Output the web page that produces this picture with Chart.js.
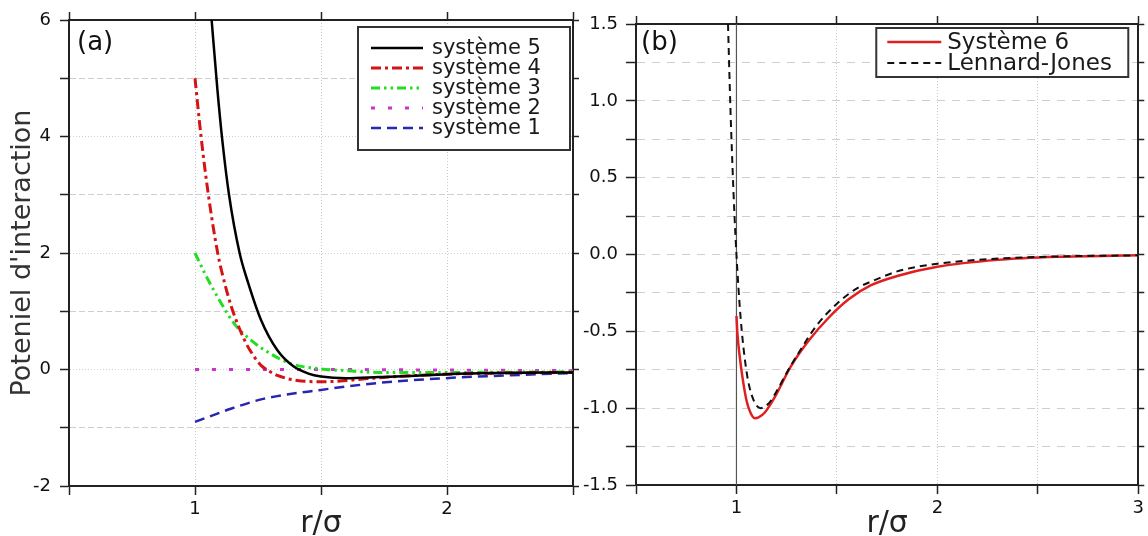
<!DOCTYPE html>
<html>
<head>
<meta charset="utf-8">
<script src="https://cdn.jsdelivr.net/npm/chart.js@4.4.1/dist/chart.umd.min.js"></script>
<style>
  html, body { margin: 0; padding: 0; background: #fff; }
  #wrap { display: flex; width: 1148px; height: 536px; }
  canvas { display: block; }
</style>
</head>
<body>
<div id="wrap">
  <canvas id="chartA" width="580" height="536"></canvas>
  <canvas id="chartB" width="568" height="536"></canvas>
</div>
<script>
// panel (a) : r/sigma values and potentials
const rSys5 = [1.066, 1.089, 1.108, 1.135, 1.177, 1.21, 1.262, 1.327, 1.392, 1.45, 1.50, 1.60, 1.73, 1.85, 2.0, 2.2, 2.5];
const vSys5 = [6.0, 4.8, 3.95, 3.0, 2.0, 1.50, 0.85, 0.33, 0.05, -0.07, -0.12, -0.15, -0.13, -0.11, -0.08, -0.06, -0.05];

const rSys4 = [1.0, 1.024, 1.053, 1.09, 1.105, 1.145, 1.197, 1.23, 1.262, 1.295, 1.327, 1.405, 1.51, 1.626, 1.73, 2.0, 2.5];
const vSys4 = [5.0, 4.0, 3.0, 2.0, 1.70, 1.07, 0.50, 0.25, 0.07, -0.03, -0.10, -0.19, -0.21, -0.18, -0.14, -0.08, -0.05];

const rSys3 = [1.0, 1.04, 1.105, 1.157, 1.223, 1.30, 1.38, 1.5, 1.6, 1.73, 2.0, 2.5];
const vSys3 = [2.0, 1.64, 1.13, 0.78, 0.50, 0.27, 0.10, 0.01, -0.02, -0.05, -0.05, -0.04];

const rSys2 = [1.0, 1.5, 2.0, 2.5];
const vSys2 = [0.0, 0.0, -0.01, -0.02];

const rSys1 = [1.0, 1.145, 1.275, 1.5, 1.73, 1.99, 2.25, 2.5];
const vSys1 = [-0.90, -0.67, -0.50, -0.35, -0.23, -0.15, -0.10, -0.06];

// panel (b)
const rSys6 = [1.0, 1.005, 1.015, 1.03, 1.05, 1.07, 1.09, 1.11, 1.14, 1.19, 1.27, 1.36, 1.46, 1.56, 1.67, 1.8, 2.0, 2.3, 2.6, 3.0];
const vSys6 = [-0.40, -0.52, -0.65, -0.80, -0.95, -1.03, -1.065, -1.06, -1.03, -0.93, -0.73, -0.56, -0.41, -0.29, -0.20, -0.14, -0.08, -0.035, -0.015, -0.005];

const rLJ = [0.958, 0.965, 0.97, 0.98, 0.99, 1.0, 1.02, 1.05, 1.08, 1.12, 1.16, 1.2, 1.25, 1.3, 1.4, 1.5, 1.6, 1.7, 1.8, 1.9, 2.0, 2.2, 2.5, 3.0];
const vLJ = [1.5, 1.17, 0.95, 0.58, 0.26, 0.0, -0.40, -0.76, -0.93, -1.0, -0.97, -0.89, -0.77, -0.66, -0.46, -0.32, -0.22, -0.16, -0.11, -0.08, -0.06, -0.035, -0.016, -0.005];

const rWall = [1.0, 1.0];
const vWall = [1.5, -1.5];

const FONT = "'DejaVu Sans', sans-serif";

function pts(xs, ys) {
  return xs.map((x, i) => ({ x: x, y: ys[i] }));
}

function curve(label, xs, ys, color, width, dash, extra) {
  return Object.assign({
    label: label,
    data: pts(xs, ys),
    borderColor: color,
    backgroundColor: color,
    borderWidth: width,
    borderDash: dash,
    pointRadius: 0,
    fill: false,
    cubicInterpolationMode: 'monotone'
  }, extra || {});
}

// legend box + panel tag drawn inside the plot area
function boxLegend(id, tag, box) {
  return {
    id: id,
    afterDatasetsDraw(chart) {
      const ctx = chart.ctx;
      const area = chart.chartArea;
      ctx.save();
      ctx.font = '26px ' + FONT;
      ctx.fillStyle = '#111';
      ctx.textBaseline = 'middle';
      ctx.textAlign = 'left';
      ctx.fillText(tag.text, area.left + tag.dx, area.top + tag.dy);

      const items = chart.data.datasets.filter(d => !d.hideInLegend);
      const left = area.right - box.right - box.width;
      const top = area.top + box.top;
      ctx.fillStyle = '#fff';
      ctx.fillRect(left, top, box.width, box.height);
      ctx.lineWidth = 2;
      ctx.strokeStyle = '#333';
      ctx.setLineDash([]);
      ctx.strokeRect(left, top, box.width, box.height);

      ctx.font = box.fontSize + 'px ' + FONT;
      items.forEach((d, i) => {
        const y = top + box.first + i * box.step;
        ctx.save();
        ctx.strokeStyle = d.borderColor;
        ctx.lineWidth = d.borderWidth;
        ctx.setLineDash(d.borderDash || []);
        ctx.beginPath();
        ctx.moveTo(left + box.lineFrom, y);
        ctx.lineTo(left + box.lineTo, y);
        ctx.stroke();
        ctx.restore();
        ctx.fillStyle = '#1a1a1a';
        ctx.fillText(d.label, left + box.textAt, y + 1);
      });
      ctx.restore();
    }
  };
}

const tickFont = { family: FONT, size: 18 };

function mirrorAxis(position, min, max, step, size, tick) {
  const horizontal = position === 'top';
  return {
    type: 'linear',
    position: position,
    min: min, max: max,
    ticks: { display: false, stepSize: step, autoSkip: false },
    grid: { drawOnChartArea: false, tickLength: tick, tickColor: '#222', tickWidth: 1.5 },
    border: { color: '#222', width: 2 },
    afterFit: horizontal ? (s) => { s.height = size; } : (s) => { s.width = size; }
  };
}

// ---------- panel (a)
new Chart(document.getElementById('chartA').getContext('2d'), {
  type: 'line',
  data: {
    datasets: [
      curve('système 5', rSys5, vSys5, '#000000', 2.5, []),
      curve('système 4', rSys4, vSys4, '#d41414', 3, [10, 4, 3, 4]),
      curve('système 3', rSys3, vSys3, '#22dd22', 3, [9, 4, 2.5, 4, 2.5, 4]),
      curve('système 2', rSys2, vSys2, '#cc33cc', 3, [4, 13]),
      curve('système 1', rSys1, vSys1, '#2626b0', 2.5, [10, 6])
    ]
  },
  options: {
    responsive: false,
    animation: false,
    layout: { padding: 0 },
    plugins: { legend: { display: false }, tooltip: { enabled: false } },
    scales: {
      x: {
        type: 'linear',
        min: 0.5, max: 2.5,
        ticks: {
          stepSize: 0.5, autoSkip: false, maxRotation: 0, padding: 4,
          color: '#111', font: tickFont,
          callback: (v) => Number.isInteger(v) ? String(v) : ''
        },
        grid: {
          color: '#c8c8c8', lineWidth: 1, tickLength: 9, tickColor: '#222', tickWidth: 1.5
        },
        border: { color: '#222', width: 2, dash: [1, 2] },
        title: {
          display: true, text: 'r/σ', color: '#222',
          font: { family: FONT, size: 30, lineHeight: 0.8 },
          padding: { top: 0, bottom: 0 }
        },
        afterFit: (s) => { s.height = 50; }
      },
      x2: mirrorAxis('top', 0.5, 2.5, 0.5, 20, 8),
      y: {
        type: 'linear',
        min: -2, max: 6,
        ticks: {
          stepSize: 1, autoSkip: false, padding: 9,
          color: '#111', font: tickFont,
          callback: (v) => (Number.isInteger(v) && v % 2 === 0) ? String(v) : ''
        },
        grid: {
          color: '#cfcfcf', lineWidth: 1, tickLength: 9, tickColor: '#222', tickWidth: 1.5
        },
        border: {
          color: '#222', width: 2,
          dash: (c) => (c.tick && c.tick.value % 2 === 0) ? [1, 2] : [6, 3]
        },
        title: {
          display: true, text: "Poteniel d'interaction", color: '#333',
          font: { family: FONT, size: 27, lineHeight: 1 },
          padding: { top: 9, bottom: 0 }
        },
        afterFit: (s) => { s.width = 69; }
      },
      y2: mirrorAxis('right', -2, 6, 1, 7, 6)
    }
  },
  plugins: [boxLegend('legendA',
    { text: '(a)', dx: 8, dy: 23 },
    { right: 3, top: 7, width: 212, height: 123, first: 21, step: 20,
      lineFrom: 13, lineTo: 65, textAt: 74, fontSize: 21 })]
});

// ---------- panel (b)
new Chart(document.getElementById('chartB').getContext('2d'), {
  type: 'line',
  data: {
    datasets: [
      curve('Système 6', rSys6, vSys6, '#e02020', 2.5, [], { order: 1 }),
      curve('Lennard-Jones', rLJ, vLJ, '#111111', 2, [7, 5], { order: 0 }),
      curve('', rWall, vWall, '#555555', 1.2, [], { order: 2, hideInLegend: true, cubicInterpolationMode: 'default', tension: 0 })
    ]
  },
  options: {
    responsive: false,
    animation: false,
    layout: { padding: 0 },
    plugins: { legend: { display: false }, tooltip: { enabled: false } },
    scales: {
      x: {
        type: 'linear',
        min: 0.5, max: 3,
        ticks: {
          stepSize: 0.5, autoSkip: false, maxRotation: 0, padding: 4,
          color: '#111', font: tickFont,
          callback: (v) => Number.isInteger(v) ? String(v) : ''
        },
        grid: {
          color: '#c8c8c8', lineWidth: 1, tickLength: 9, tickColor: '#222', tickWidth: 1.5
        },
        border: { color: '#222', width: 2, dash: [1, 2] },
        title: {
          display: true, text: 'r/σ', color: '#222',
          font: { family: FONT, size: 30, lineHeight: 0.8 },
          padding: { top: 0, bottom: 0 }
        },
        afterFit: (s) => { s.height = 51; }
      },
      x2: mirrorAxis('top', 0.5, 3, 0.5, 24, 8),
      y: {
        type: 'linear',
        min: -1.5, max: 1.5,
        ticks: {
          stepSize: 0.25, autoSkip: false, padding: 8,
          color: '#111', font: tickFont,
          callback: (v) => Math.abs(v * 2 - Math.round(v * 2)) < 1e-6 ? v.toFixed(1) : ''
        },
        grid: {
          color: '#cfcfcf', lineWidth: 1, tickLength: 10, tickColor: '#222', tickWidth: 1.5
        },
        border: { color: '#222', width: 2, dash: [8, 7] },
        afterFit: (s) => { s.width = 56; }
      },
      y2: mirrorAxis('right', -1.5, 1.5, 0.25, 9, 6)
    }
  },
  plugins: [boxLegend('legendB',
    { text: '(b)', dx: 5, dy: 19 },
    { right: 10, top: 4, width: 252, height: 49, first: 14, step: 21,
      lineFrom: 11, lineTo: 65, textAt: 71, fontSize: 23 })]
});
</script>
</body>
</html>
